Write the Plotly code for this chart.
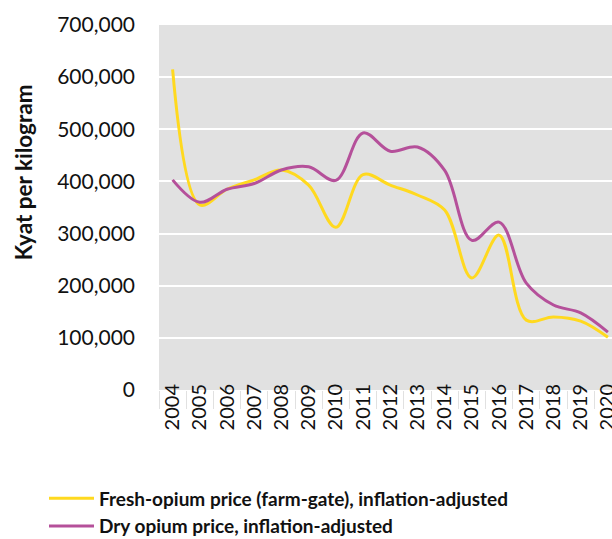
import plotly.graph_objects as go

years = [str(y) for y in range(2004, 2021)]
fresh = [615000, 355000, 385000, 403000, 422000, 393000, 312000, 413000, 393000, 374000, 345000, 215000, 297000, 134000, 140000, 132000, 101000]
dry = [403000, 360000, 385000, 396000, 422000, 428000, 402000, 493000, 458000, 466000, 421000, 287000, 322000, 205000, 163000, 148000, 111000]
y_ticks = [0, 100000, 200000, 300000, 400000, 500000, 600000, 700000]

FONT = "Lato"

fig = go.Figure()
fig.add_trace(go.Scatter(x=years, y=fresh, mode="lines", name="Fresh-opium price (farm-gate), inflation-adjusted",
                         line=dict(color="#FFD91F", width=3, shape="spline", smoothing=1.0)))
fig.add_trace(go.Scatter(x=years, y=dry, mode="lines", name="Dry opium price, inflation-adjusted",
                         line=dict(color="#B5509A", width=3, shape="spline", smoothing=1.0)))

fig.update_layout(
    width=612, height=539,
    margin=dict(l=159, r=0, t=25, b=149, autoexpand=False),
    paper_bgcolor="white", plot_bgcolor="#E1E1E1",
    font=dict(family=FONT, color="#111111"),
    showlegend=True,
    legend=dict(xref="container", yref="container", x=0.0719, y=0.1104, xanchor="left", yanchor="top",
                font=dict(family=FONT, size=19, color="#111111", weight="bold"),
                tracegroupgap=0, itemwidth=45, bgcolor="rgba(0,0,0,0)"),
    xaxis=dict(type="category", range=[-0.5, 16.15], tickangle=-90, tickfont=dict(size=20, color="#111111"),
               ticks="outside", tickson="boundaries", ticklen=18, tickcolor="#E1E1E1", ticklabelstandoff=-11,
               showgrid=False, showline=False, zeroline=False),
    yaxis=dict(range=[0, 700000], tickvals=y_ticks, tickformat=",d", tickfont=dict(size=21, color="#111111"),
               gridcolor="white", gridwidth=2, zeroline=False, showline=False, ticklabelstandoff=23),
    annotations=[dict(text="<b>Kyat per kilogram</b>", xref="paper", yref="paper", x=-0.300, y=0.597,
                      textangle=-90, showarrow=False, xanchor="center", yanchor="middle",
                      font=dict(size=22.5, family=FONT, color="#111111"))],
)

fig.write_html("out.html", config={"displayModeBar": False},
               post_script="document.body.style.margin='0';document.body.style.overflow='hidden';")
